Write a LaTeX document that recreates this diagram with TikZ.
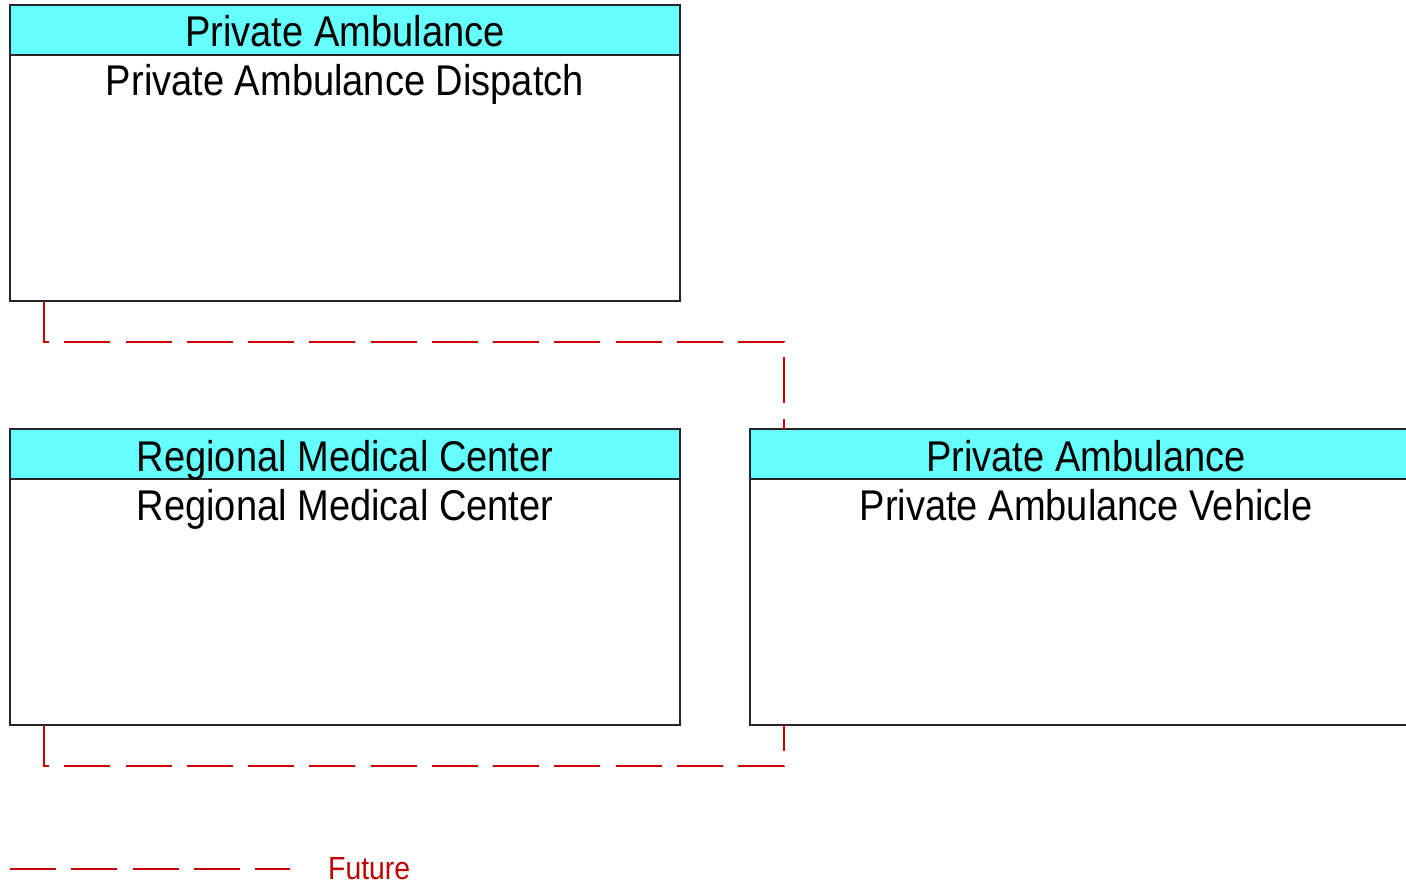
\documentclass[tikz,border=0pt]{standalone}
\usepackage{fontspec}
\setmainfont{Liberation Sans}
\newfontfamily\diafont[FakeStretch=0.885]{Liberation Sans}
\usetikzlibrary{calc}
\definecolor{hdr}{RGB}{102,255,255}
\definecolor{fut}{RGB}{204,0,0}
\definecolor{futtxt}{RGB}{192,0,0}
\begin{document}
\begin{tikzpicture}[x=1pt,y=-1pt,
  box/.style={draw=black!85, line width=1.2pt, fill=white, inner sep=0pt, outer sep=0pt,
    minimum width=670pt, minimum height=296pt, anchor=north west},
  hdrbox/.style={draw=black!85, line width=1.2pt, fill=hdr, inner sep=0pt, outer sep=0pt,
    minimum width=670pt, minimum height=50pt, anchor=north west},
  title/.style={font=\diafont\fontsize{43}{50}\selectfont, anchor=base, inner sep=0pt},
  future/.style={draw=fut, line width=1.3pt, dash pattern=on 46pt off 15.25pt},
  legtext/.style={font=\diafont\fontsize{32}{38}\selectfont, text=futtxt, anchor=base west, inner sep=0pt}
]
\useasboundingbox (0,0) rectangle (1406,885);
\clip (0,0) rectangle (1406,885);

% Private Ambulance Dispatch
\node[box] (disp) at (10,5) {};
\node[hdrbox] (disph) at (10,5) {};
\node[title] (dispt) at (345,47) {Private Ambulance};
\node[title] (dispn) at (345,96) {Private Ambulance Dispatch};

% Regional Medical Center
\node[box] (rmc) at (10,429) {};
\node[hdrbox] (rmch) at (10,429) {};
\node[title] (rmct) at (345,471) {Regional Medical Center};
\node[title] (rmcn) at (345,520) {Regional Medical Center};

% Private Ambulance Vehicle
\node[box] (veh) at (750,429) {};
\node[hdrbox] (vehh) at (750,429) {};
\node[title] (veht) at (1086,471) {Private Ambulance};
\node[title] (vehn) at (1086,520) {Private Ambulance Vehicle};

% connectors
\draw[future] ([xshift=34pt]disp.south west) -- ++(0,41) -| ([xshift=34pt]vehh.north west);
\draw[future] ([xshift=34pt]rmc.south west) -- ++(0,41) -| ([xshift=34pt]veh.south west);

% legend
\coordinate (leg1) at (10,869);
\coordinate (leg2) at (290,869);
\draw[future] (leg1) -- (leg2);
\node[legtext] (legf) at (328,879) {Future};
\end{tikzpicture}
\end{document}
